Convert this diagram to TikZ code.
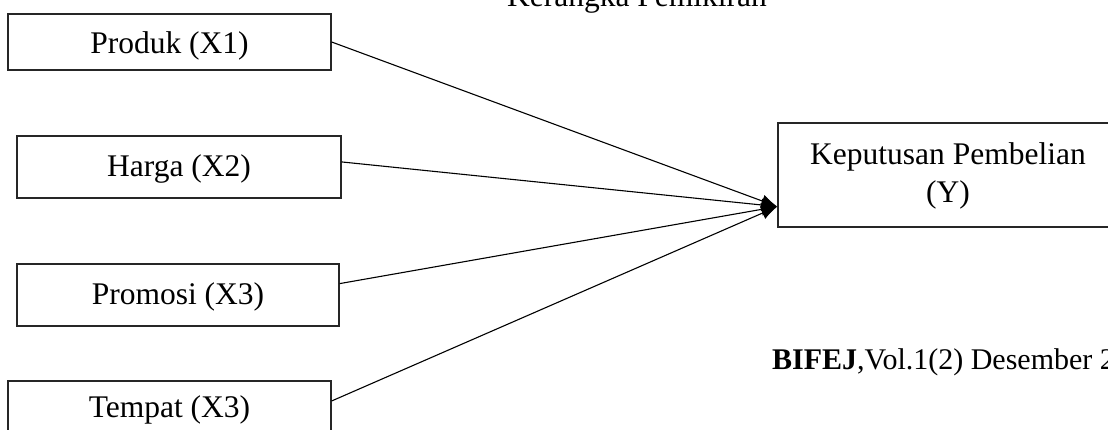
\documentclass[tikz,border=0pt]{standalone}
\usepackage{fontspec}
\setmainfont{Liberation Serif}
\usetikzlibrary{calc,arrows.meta}
\begin{document}
\begin{tikzpicture}[x=1pt,y=-1pt,
  varbox/.style={draw=black!85,line width=1.3pt,inner sep=0pt,
    font=\fontsize{31.5}{38}\selectfont,text height=20pt,text depth=0pt},
  link/.style={line width=1.1pt,-{Latex[length=16pt,width=13pt]}}]
\clip (0,0) rectangle (1108,430);
\fill[white] (0,0) rectangle (1108,430);
\node[font=\fontsize{31.5}{38}\selectfont,anchor=base] (title) at (637,7) {Kerangka Pemikiran};
\node[varbox,minimum width=323pt,minimum height=56pt,text height=24pt] (b1) at (169.5,42) {Produk (X1)};
\node[varbox,minimum width=324pt,minimum height=62pt] (b2) at (179,167) {Harga (X2)};
\node[varbox,minimum width=322pt,minimum height=62pt] (b3) at (178,295) {Promosi (X3)};
\node[varbox,minimum width=323pt,minimum height=56pt,text height=16pt] (b4) at (169.5,409) {Tempat (X3)};
\node[draw=black!85,line width=1.3pt,minimum width=334pt,minimum height=104pt] (by) at (945,175) {};
\node[font=\fontsize{31.5}{38}\selectfont,align=center,anchor=base] (ytext) at (948,203) {Keputusan Pembelian\\(Y)};
\coordinate (tip) at ($(by.south west)!0.2!(by.north west)$);
\draw[link] (b1.east) -- (tip);
\draw[link] ($(b2.north east)!0.42!(b2.south east)$) -- (tip);
\draw[link] ($(b3.north east)!0.32!(b3.south east)$) -- (tip);
\draw[link] ($(b4.north east)!0.36!(b4.south east)$) -- (tip);
\node[font=\fontsize{30}{36}\selectfont,anchor=base west,inner sep=0pt] (journal) at (772,369) {\textbf{BIFEJ},Vol.1(2) Desember 2};
\end{tikzpicture}
\end{document}
